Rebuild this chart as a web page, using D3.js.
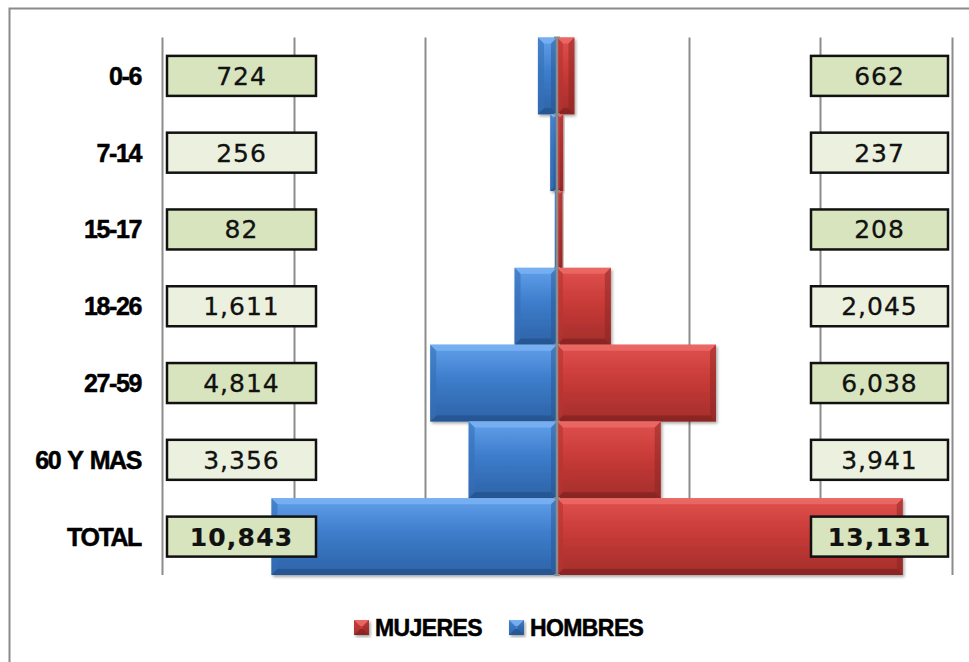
<!DOCTYPE html>
<html>
<head>
<meta charset="utf-8">
<script src="https://cdnjs.cloudflare.com/ajax/libs/d3/7.8.5/d3.min.js"></script>
<style>
	body { margin: 0; background: #fff; }
	svg { display: block; }
	.cat { font-family: "Liberation Sans", Arial, sans-serif; font-weight: bold; font-size: 25px; letter-spacing: -1.4px; word-spacing: 2px; stroke: #000; stroke-width: 0.5px; }
	.val { font-family: "DejaVu Sans", Verdana, sans-serif; font-size: 25px; letter-spacing: 1px; fill: #111; stroke: #111; stroke-width: 0.3px; }
	.val.total { font-weight: bold; letter-spacing: 1.2px; stroke-width: 0.2px; }
	.legend text { font-family: "Liberation Sans", Arial, sans-serif; font-weight: bold; font-size: 23px; letter-spacing: -0.6px; stroke: #000; stroke-width: 0.5px; }
</style>
</head>
<body>
<div id="chart"></div>
<script>

var categories = ["0-6", "7-14", "15-17", "18-26", "27-59", "60 Y MAS", "TOTAL"];
var hombres = [724, 256, 82, 1611, 4814, 3356, 10843];
var mujeres = [662, 237, 208, 2045, 6038, 3941, 13131];
var gridTicks = [-15000, -10000, -5000, 0, 5000, 10000, 15000];
var seriesNames = ["MUJERES", "HOMBRES"];

var width = 969, height = 662;
var fmt = d3.format(",");

var svg = d3.select("#chart").append("svg")
	.attr("width", width)
	.attr("height", height);

var defs = svg.append("defs");

var shadow = defs.append("filter").attr("id", "shadow")
	.attr("x", "-10%").attr("y", "-10%").attr("width", "130%").attr("height", "130%");
shadow.append("feDropShadow")
	.attr("dx", 1.5).attr("dy", 2).attr("stdDeviation", 1.5)
	.attr("flood-color", "#000").attr("flood-opacity", 0.35);

var palette = {
	blue: {top: "#62a0ea", mid: "#3d7dcb", bot: "#2d62a6", edgeT: "#7ab3f2", edgeB: "#24528e", side: "#356fb8"},
	red:  {top: "#e0504d", mid: "#c83b38", bot: "#a42d2b", edgeT: "#ec6b67", edgeB: "#852322", side: "#b63431"}
};

Object.keys(palette).forEach(function(k) {
	var g = defs.append("linearGradient").attr("id", "grad-" + k)
		.attr("x1", 0).attr("y1", 0).attr("x2", 0).attr("y2", 1);
	g.append("stop").attr("offset", "0%").attr("stop-color", palette[k].top);
	g.append("stop").attr("offset", "45%").attr("stop-color", palette[k].mid);
	g.append("stop").attr("offset", "100%").attr("stop-color", palette[k].bot);
});

// outer frame (runs off the right and bottom of the picture)
svg.append("rect")
	.attr("x", 9.5).attr("y", 8.5)
	.attr("width", 1000).attr("height", 700)
	.attr("fill", "none")
	.attr("stroke", "#8a8a8a")
	.attr("stroke-width", 2);

var x = d3.scaleLinear()
	.domain([-15000, 15000])
	.range([162, 952]);

var y = d3.scaleBand()
	.domain(categories)
	.range([37.5, 575])
	.padding(0);

var plotTop = y.range()[0], plotBottom = y.range()[1];

// vertical gridlines
svg.append("g").selectAll("line")
	.data(gridTicks.filter(function(d) { return d !== 0; }))
	.enter().append("line")
		.attr("x1", function(d) { return Math.round(x(d)) + 0.5; })
		.attr("x2", function(d) { return Math.round(x(d)) + 0.5; })
		.attr("y1", plotTop)
		.attr("y2", plotBottom)
		.attr("stroke", "#8c8c8c")
		.attr("stroke-width", 2);

var rows = categories.map(function(c, i) {
	return {cat: c, h: hombres[i], m: mujeres[i], i: i};
});

function bevelBar(g, x0, x1, y0, y1, pal) {
	var w = x1 - x0, h = y1 - y0;
	var b = Math.min(6, w / 2, h / 2);
	g.append("rect")
		.attr("x", x0).attr("y", y0)
		.attr("width", w).attr("height", h)
		.attr("fill", "url(#grad-" + pal + ")")
		.attr("filter", "url(#shadow)");
	var p = palette[pal];
	var polys = [
		{pts: [[x0, y0], [x1, y0], [x1 - b, y0 + b], [x0 + b, y0 + b]], c: p.edgeT, o: 0.85},
		{pts: [[x0, y1], [x1, y1], [x1 - b, y1 - b], [x0 + b, y1 - b]], c: p.edgeB, o: 0.8},
		{pts: [[x0, y0], [x0 + b, y0 + b], [x0 + b, y1 - b], [x0, y1]], c: p.side, o: 0.6},
		{pts: [[x1, y0], [x1 - b, y0 + b], [x1 - b, y1 - b], [x1, y1]], c: p.edgeB, o: 0.45}
	];
	g.selectAll(null)
		.data(polys)
		.enter().append("polygon")
			.attr("points", function(d) { return d.pts.map(function(q) { return q.join(","); }).join(" "); })
			.attr("fill", function(d) { return d.c; })
			.attr("opacity", function(d) { return d.o; });
}

var bars = svg.append("g");
rows.forEach(function(d) {
	var y0 = y(d.cat), y1 = y(d.cat) + y.bandwidth();
	bevelBar(bars.append("g"), x(-d.h), x(0), y0, y1, "blue");
	bevelBar(bars.append("g"), x(0), x(d.m), y0, y1, "red");
});

// centre axis with ticks at category boundaries
var axis = svg.append("g");
axis.append("line")
	.attr("x1", x(0)).attr("x2", x(0))
	.attr("y1", plotTop).attr("y2", plotBottom)
	.attr("stroke", "#8c8c8c")
	.attr("stroke-width", 2.5);
axis.selectAll(".tick")
	.data(categories.concat(["end"]))
	.enter().append("line")
		.attr("class", "tick")
		.attr("x1", x(0) - 3).attr("x2", x(0) + 3)
		.attr("y1", function(d, i) { return plotTop + i * y.bandwidth(); })
		.attr("y2", function(d, i) { return plotTop + i * y.bandwidth(); })
		.attr("stroke", "#8c8c8c")
		.attr("stroke-width", 2);

// category labels
svg.append("g").selectAll("text")
	.data(rows)
	.enter().append("text")
		.attr("class", "cat")
		.attr("x", 141)
		.attr("y", function(d) { return y(d.cat) + y.bandwidth() / 2; })
		.attr("dy", "0.36em")
		.attr("text-anchor", "end")
		.text(function(d) { return d.cat; });

// value boxes
var boxH = 40;
function boxes(side, x0, w, key) {
	var g = svg.append("g").selectAll("g")
		.data(rows)
		.enter().append("g")
			.attr("transform", function(d) {
				return "translate(" + x0 + "," + (y(d.cat) + y.bandwidth() / 2 - boxH / 2) + ")";
			});
	g.append("rect")
		.attr("width", w).attr("height", boxH)
		.attr("fill", function(d) { return d.i % 2 === 0 ? "#d7e4bd" : "#ebf1de"; })
		.attr("stroke", "#111")
		.attr("stroke-width", 2.5);
	g.append("text")
		.attr("class", function(d) { return d.cat === "TOTAL" ? "val total" : "val"; })
		.attr("x", w / 2)
		.attr("y", boxH / 2)
		.attr("dy", "0.36em")
		.attr("text-anchor", "middle")
		.text(function(d) { return fmt(d[key]); });
}
boxes("left", 167, 149, "h");
boxes("right", 811, 137, "m");

// legend
var legend = svg.append("g").attr("class", "legend");
var legendItems = [
	{name: seriesNames[0], pal: "red", x: 354},
	{name: seriesNames[1], pal: "blue", x: 509}
];
legendItems.forEach(function(d) {
	var g = legend.append("g").attr("transform", "translate(" + d.x + ",620)");
	bevelBar(g, 0, 15, 0, 15, d.pal);
	g.append("text")
		.attr("x", 21)
		.attr("y", 15.5)
		.attr("fill", "#000")
		.text(d.name);
});

</script>
</body>
</html>
